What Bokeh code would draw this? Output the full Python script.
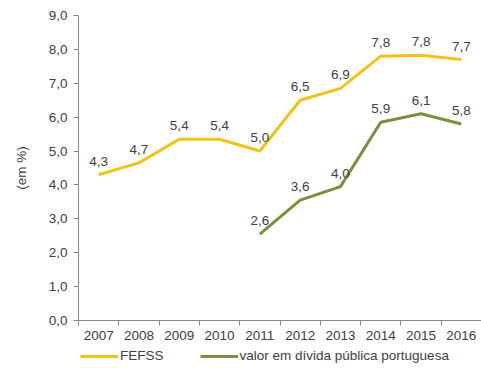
from bokeh.plotting import figure
from bokeh.models import FixedTicker, Legend, LegendItem, ColumnDataSource, Range1d
from bokeh.layouts import column
from bokeh.embed import file_html
from bokeh.resources import INLINE
from bokeh.core.properties import value

years = [2007, 2008, 2009, 2010, 2011, 2012, 2013, 2014, 2015, 2016]
fefss = [4.3, 4.65, 5.35, 5.35, 5.0, 6.5, 6.85, 7.8, 7.83, 7.7]
fefss_labels = ["4,3", "4,7", "5,4", "5,4", "5,0", "6,5", "6,9", "7,8", "7,8", "7,7"]
div_years = [2011, 2012, 2013, 2014, 2015, 2016]
divida = [2.55, 3.55, 3.95, 5.85, 6.1, 5.8]
divida_labels = ["2,6", "3,6", "4,0", "5,9", "6,1", "5,8"]
y_ticks = [0, 1, 2, 3, 4, 5, 6, 7, 8, 9]
y_tick_labels = ["0,0", "1,0", "2,0", "3,0", "4,0", "5,0", "6,0", "7,0", "8,0", "9,0"]
series_names = ["FEFSS", "valor em dívida pública portuguesa"]

YELLOW = "#F2C314"
GREEN = "#76923C"
TEXT = "#404040"
AXIS = "#868686"
FONT = "Liberation Sans"
FS = "13.5px"

p = figure(width=481, height=345, output_backend="svg", toolbar_location=None,
           x_range=Range1d(2006.5, 2016.5), y_range=Range1d(0, 9),
           min_border_left=78, min_border_right=0, min_border_top=15, min_border_bottom=25)
p.outline_line_color = None
p.xgrid.visible = False
p.ygrid.visible = False
p.background_fill_color = "white"
p.border_fill_color = "white"

# x axis
p.xaxis.ticker = FixedTicker(ticks=years, minor_ticks=[y - 0.5 for y in years] + [2016.5])
p.xaxis.major_tick_out = 0
p.xaxis.major_tick_in = 0
p.xaxis.minor_tick_out = 5
p.xaxis.minor_tick_in = 0
p.xaxis.minor_tick_line_color = AXIS
p.xaxis.axis_line_color = AXIS
p.xaxis.major_label_text_font = FONT
p.xaxis.major_label_text_font_size = FS
p.xaxis.major_label_text_color = TEXT
p.xaxis.major_label_standoff = 5

# y axis
p.yaxis.ticker = FixedTicker(ticks=y_ticks)
p.yaxis.major_label_overrides = {t: l for t, l in zip(y_ticks, y_tick_labels)}
p.yaxis.major_tick_out = 5
p.yaxis.major_tick_in = 0
p.yaxis.minor_tick_out = 0
p.yaxis.minor_tick_in = 0
p.yaxis.major_tick_line_color = AXIS
p.yaxis.axis_line_color = AXIS
p.yaxis.major_label_text_font = FONT
p.yaxis.major_label_text_font_size = FS
p.yaxis.major_label_text_color = TEXT
p.yaxis.major_label_standoff = 6
p.yaxis.axis_label = "(em %)"
p.yaxis.axis_label_text_font = FONT
p.yaxis.axis_label_text_font_style = "normal"
p.yaxis.axis_label_text_font_size = FS
p.yaxis.axis_label_text_color = TEXT
p.yaxis.axis_label_standoff = 17

src1 = ColumnDataSource(dict(x=years, y=fefss, t=fefss_labels))
src2 = ColumnDataSource(dict(x=div_years, y=divida, t=divida_labels))

p.line("x", "y", source=src1, line_color=YELLOW, line_width=3)
p.line("x", "y", source=src2, line_color=GREEN, line_width=3)

for src in (src1, src2):
    p.text("x", "y", text="t", source=src, text_align="center", text_baseline="bottom",
           y_offset=-9, text_font=value(FONT), text_font_size=FS, text_color=TEXT)

# legend strip below (its lines are out of view; only the legend shows)
lg = figure(width=481, height=23, output_backend="svg", toolbar_location=None,
            x_range=Range1d(0, 1), y_range=Range1d(100, 101),
            min_border_left=0, min_border_right=0, min_border_top=0, min_border_bottom=0)
lg.outline_line_color = None
lg.xaxis.visible = False
lg.yaxis.visible = False
lg.xgrid.visible = False
lg.ygrid.visible = False
l1 = lg.line("x", "y", source=src1, line_color=YELLOW, line_width=3)
l2 = lg.line("x", "y", source=src2, line_color=GREEN, line_width=3)

legend = Legend(items=[LegendItem(label=series_names[0], renderers=[l1]),
                       LegendItem(label=series_names[1], renderers=[l2])],
                location=(2, 5), orientation="horizontal",
                border_line_color=None, background_fill_alpha=0,
                padding=0, margin=0, glyph_width=38, glyph_height=12,
                label_standoff=2, spacing=36,
                label_text_font=FONT, label_text_font_size=FS, label_text_color=TEXT)
lg.add_layout(legend, "center")

layout = column(p, lg, spacing=0)
open("out.html", "w").write(file_html(layout, INLINE))
